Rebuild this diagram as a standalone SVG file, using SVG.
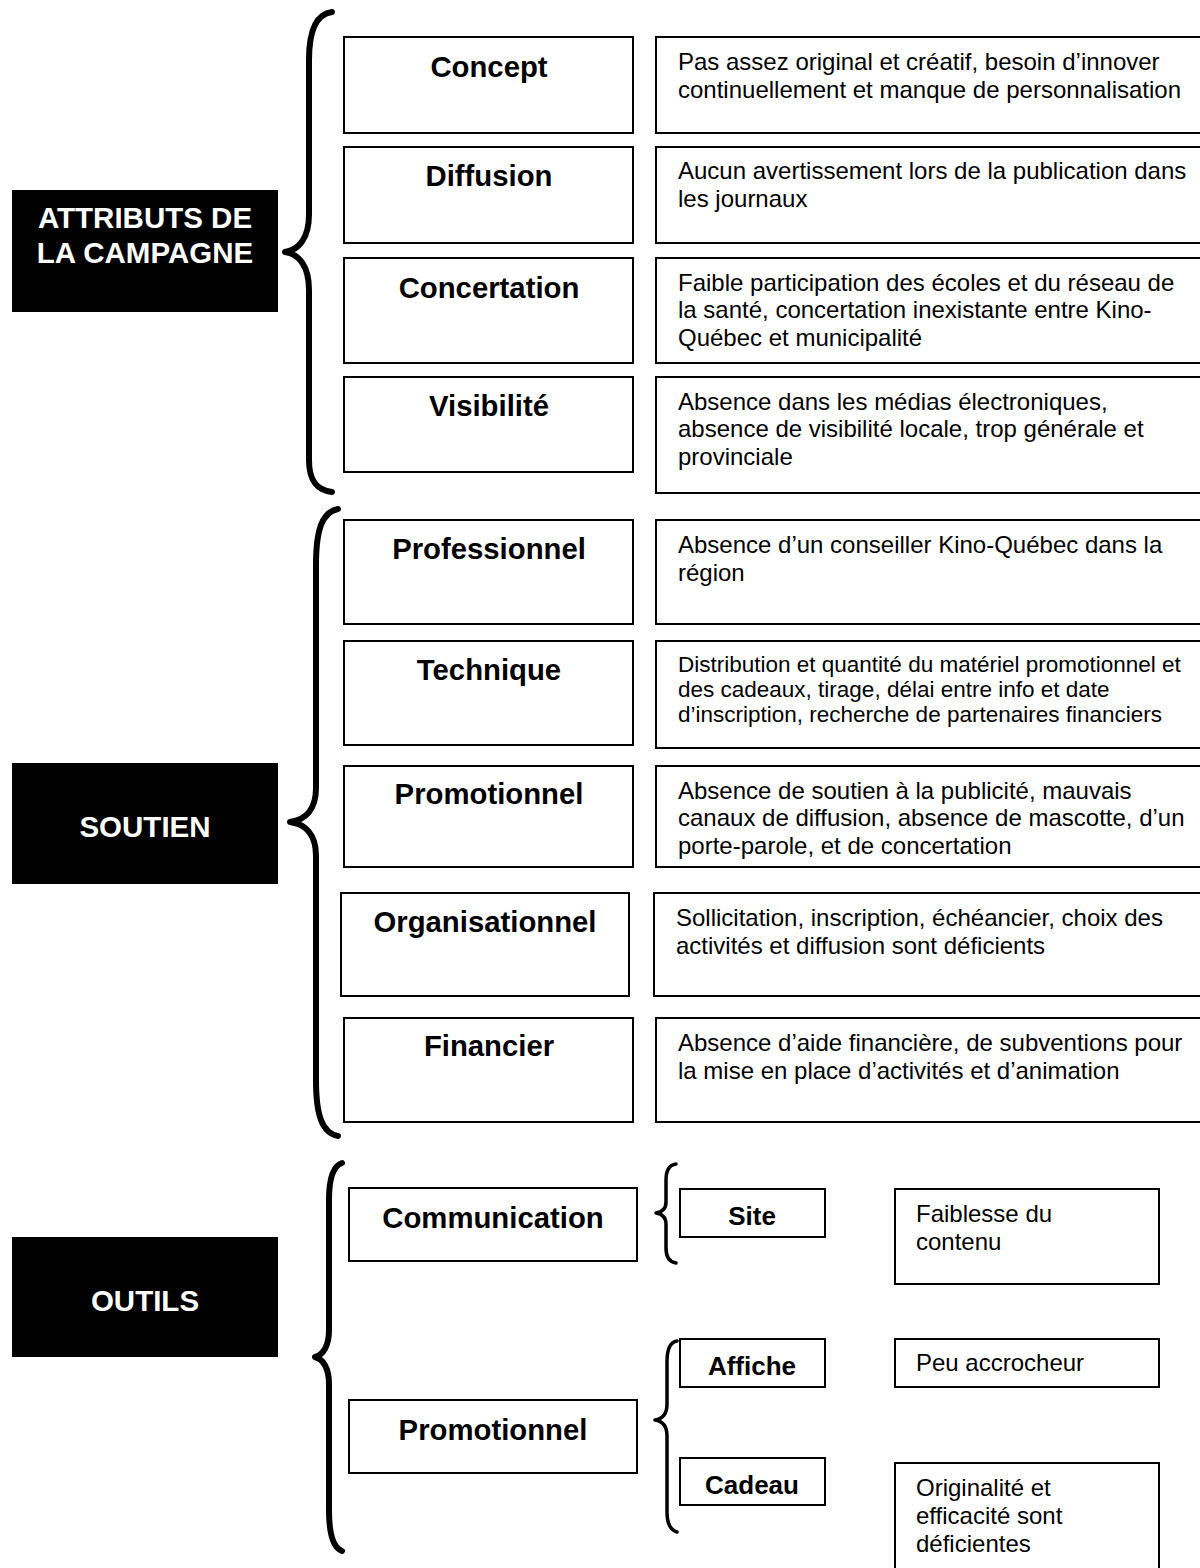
<svg xmlns="http://www.w3.org/2000/svg" width="1200" height="1568" viewBox="0 0 1200 1568">
<style>
.bg{fill:#fff}
.box{fill:#fff;stroke:#000;stroke-width:2}
.blk{fill:#000}
.lbl{font-family:"Liberation Sans",Arial,sans-serif;font-weight:bold;font-size:29.3px;fill:#000;text-anchor:middle}
.sm{font-family:"Liberation Sans",Arial,sans-serif;font-weight:bold;font-size:26px;fill:#000;text-anchor:middle}
.hd{font-family:"Liberation Sans",Arial,sans-serif;font-weight:bold;font-size:29.5px;fill:#fff;text-anchor:middle}
.d{font-family:"Liberation Sans",Arial,sans-serif;font-size:24px;fill:#000}
.d2{font-family:"Liberation Sans",Arial,sans-serif;font-size:22.5px;fill:#000}
.br{fill:none;stroke:#000;stroke-width:6;stroke-linecap:round;stroke-linejoin:round}
.brs{fill:none;stroke:#000;stroke-width:3.5;stroke-linecap:round;stroke-linejoin:round}
</style>
<rect class="bg" x="0" y="0" width="1200" height="1568"/>

<g id="connectors">
<path class="br" d="M332,12 C316,14 309,30 309,60 L309,214 C309,238 299,250 285,252 C299,254 309,266 309,290 L309,460 C309,480 316,490 332,492"/>
<path class="br" d="M338,509 C322,512 316,530 316,565 L316,788 C316,810 305,820 290,822 C305,824 316,834 316,856 L316,1080 C316,1115 322,1133 338,1136"/>
<path class="br" d="M342,1163 C333,1166 329,1180 329,1200 L329,1330 C329,1346 323,1355 315,1357 C323,1359 329,1368 329,1384 L329,1510 C329,1535 334,1548 342,1551"/>
<path class="brs" d="M676,1164 C669,1165 666,1171 666,1180 L666,1202 C666,1209 662,1212 656,1213 C662,1214 666,1217 666,1224 L666,1248 C666,1257 669,1262 676,1263"/>
<path class="brs" d="M677,1341 C670,1342 667,1350 667,1362 L667,1404 C667,1414 662,1419 655,1420 C662,1421 667,1426 667,1436 L667,1512 C667,1524 670,1530 677,1532"/>
</g>

<g id="attributs">
<rect class="blk" x="12" y="190" width="266" height="122"/>
<text class="hd" x="145" y="228">ATTRIBUTS DE</text>
<text class="hd" x="145" y="263">LA CAMPAGNE</text>
</g>
<g id="soutien">
<rect class="blk" x="12" y="763" width="266" height="121"/>
<text class="hd" x="145" y="837">SOUTIEN</text>
</g>
<g id="outils">
<rect class="blk" x="12" y="1237" width="266" height="120"/>
<text class="hd" x="145" y="1311">OUTILS</text>
</g>

<g id="concept">
<rect class="box" x="344" y="37" width="289" height="96"/>
<text class="lbl" x="489" y="77">Concept</text>
</g>
<g id="concept-d">
<rect class="box" x="656" y="37" width="560" height="96"/>
<text class="d" x="678" y="70">Pas assez original et créatif, besoin d’innover</text>
<text class="d" x="678" y="98">continuellement et manque de personnalisation</text>
</g>

<g id="diffusion">
<rect class="box" x="344" y="147" width="289" height="96"/>
<text class="lbl" x="489" y="186">Diffusion</text>
</g>
<g id="diffusion-d">
<rect class="box" x="656" y="147" width="560" height="96"/>
<text class="d" x="678" y="179">Aucun avertissement lors de la publication dans</text>
<text class="d" x="678" y="207">les journaux</text>
</g>

<g id="concertation">
<rect class="box" x="344" y="258" width="289" height="105"/>
<text class="lbl" x="489" y="298">Concertation</text>
</g>
<g id="concertation-d">
<rect class="box" x="656" y="258" width="560" height="105"/>
<text class="d" x="678" y="291">Faible participation des écoles et du réseau de</text>
<text class="d" x="678" y="318">la santé, concertation inexistante entre Kino-</text>
<text class="d" x="678" y="346">Québec et municipalité</text>
</g>

<g id="visibilite">
<rect class="box" x="344" y="377" width="289" height="95"/>
<text class="lbl" x="489" y="416">Visibilité</text>
</g>
<g id="visibilite-d">
<rect class="box" x="656" y="377" width="560" height="116"/>
<text class="d" x="678" y="410">Absence dans les médias électroniques,</text>
<text class="d" x="678" y="437">absence de visibilité locale, trop générale et</text>
<text class="d" x="678" y="465">provinciale</text>
</g>

<g id="professionnel">
<rect class="box" x="344" y="520" width="289" height="104"/>
<text class="lbl" x="489" y="559">Professionnel</text>
</g>
<g id="professionnel-d">
<rect class="box" x="656" y="520" width="560" height="104"/>
<text class="d" x="678" y="553">Absence d’un conseiller Kino-Québec dans la</text>
<text class="d" x="678" y="581">région</text>
</g>

<g id="technique">
<rect class="box" x="344" y="641" width="289" height="104"/>
<text class="lbl" x="489" y="680">Technique</text>
</g>
<g id="technique-d">
<rect class="box" x="656" y="641" width="560" height="107"/>
<text class="d2" x="678" y="672">Distribution et quantité du matériel promotionnel et</text>
<text class="d2" x="678" y="697">des cadeaux, tirage, délai entre info et date</text>
<text class="d2" x="678" y="722">d’inscription, recherche de partenaires financiers</text>
</g>

<g id="promotionnel">
<rect class="box" x="344" y="766" width="289" height="101"/>
<text class="lbl" x="489" y="804">Promotionnel</text>
</g>
<g id="promotionnel-d">
<rect class="box" x="656" y="766" width="560" height="101"/>
<text class="d" x="678" y="799">Absence de soutien à la publicité, mauvais</text>
<text class="d" x="678" y="826">canaux de diffusion, absence de mascotte, d’un</text>
<text class="d" x="678" y="854">porte-parole, et de concertation</text>
</g>

<g id="organisationnel">
<rect class="box" x="341" y="893" width="288" height="103"/>
<text class="lbl" x="485" y="932">Organisationnel</text>
</g>
<g id="organisationnel-d">
<rect class="box" x="654" y="893" width="562" height="103"/>
<text class="d" x="676" y="926">Sollicitation, inscription, échéancier, choix des</text>
<text class="d" x="676" y="954">activités et diffusion sont déficients</text>
</g>

<g id="financier">
<rect class="box" x="344" y="1018" width="289" height="104"/>
<text class="lbl" x="489" y="1056">Financier</text>
</g>
<g id="financier-d">
<rect class="box" x="656" y="1018" width="560" height="104"/>
<text class="d" x="678" y="1051">Absence d’aide financière, de subventions pour</text>
<text class="d" x="678" y="1079">la mise en place d’activités et d’animation</text>
</g>

<g id="communication">
<rect class="box" x="349" y="1188" width="288" height="73"/>
<text class="lbl" x="493" y="1228">Communication</text>
</g>
<g id="promotionnel-outils">
<rect class="box" x="349" y="1400" width="288" height="73"/>
<text class="lbl" x="493" y="1440">Promotionnel</text>
</g>

<g id="site">
<rect class="box" x="680" y="1189" width="145" height="48"/>
<text class="sm" x="752" y="1225">Site</text>
</g>
<g id="site-d">
<rect class="box" x="895" y="1189" width="264" height="95"/>
<text class="d" x="916" y="1222">Faiblesse du</text>
<text class="d" x="916" y="1250">contenu</text>
</g>

<g id="affiche">
<rect class="box" x="680" y="1339" width="145" height="48"/>
<text class="sm" x="752" y="1375">Affiche</text>
</g>
<g id="affiche-d">
<rect class="box" x="895" y="1339" width="264" height="48"/>
<text class="d" x="916" y="1371">Peu accrocheur</text>
</g>

<g id="cadeau">
<rect class="box" x="680" y="1458" width="145" height="47"/>
<text class="sm" x="752" y="1494">Cadeau</text>
</g>
<g id="cadeau-d">
<rect class="box" x="895" y="1463" width="264" height="120"/>
<text class="d" x="916" y="1496">Originalité et</text>
<text class="d" x="916" y="1524">efficacité sont</text>
<text class="d" x="916" y="1552">déficientes</text>
</g>
</svg>
